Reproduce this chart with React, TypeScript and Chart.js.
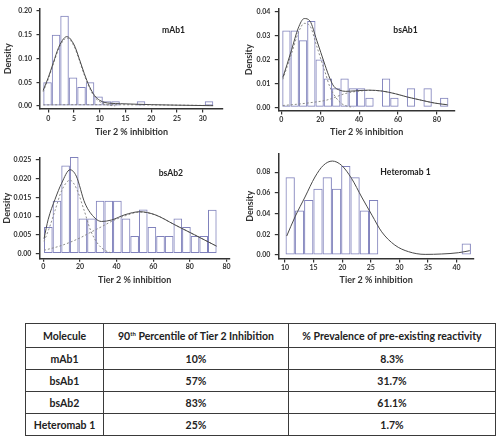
import React, { useEffect, useRef } from 'react';
import { Chart, registerables } from 'chart.js';

Chart.register(...registerables);
Chart.defaults.font.family = 'Lato, "Liberation Sans", sans-serif';

// ---------- mAb1 ----------
const mAb1BinStart = -0.97;
const mAb1BinWidth = 1.65;
const mAb1Density = [0.05, 0.15, 0.19, 0.06, 0.04, 0.05, 0.02, 0.01, 0.01, 0, 0, 0.01, 0, 0, 0, 0, 0, 0, 0, 0.01];
const mAb1FitX = [-1, 0, 1, 2, 3, 3.6, 5, 6, 7, 8, 9, 10, 11, 12, 14, 17, 20, 25, 32];
const mAb1FitY = [0.033, 0.06, 0.092, 0.123, 0.142, 0.146, 0.129, 0.1, 0.068, 0.041, 0.022, 0.012, 0.0075, 0.006, 0.005, 0.004, 0.003, 0.002, 0.0008];
const mAb1Comp1X = [-1, 0, 1, 2, 3, 3.6, 5, 6, 7, 8, 9, 10, 11, 12, 13];
const mAb1Comp1Y = [0.03, 0.057, 0.089, 0.12, 0.139, 0.143, 0.126, 0.097, 0.065, 0.038, 0.019, 0.009, 0.004, 0.0015, 0.0005];
const mAb1Comp2X = [-1, 5, 10, 15, 20, 25, 32];
const mAb1Comp2Y = [0.0025, 0.003, 0.003, 0.0028, 0.0025, 0.002, 0.0012];
const mAb1XTicks = [0, 5, 10, 15, 20, 25, 30];
const mAb1XTickLabels = ['0', '5', '10', '15', '20', '25', '30'];
const mAb1YTicks = [0, 0.05, 0.1, 0.15, 0.2];
const mAb1YTickLabels = ['0.00', '0.05', '0.10', '0.15', '0.20'];

// ---------- bsAb1 ----------
const bsAb1BinStart = 0.5;
const bsAb1BinWidth = 4.27;
const bsAb1Density = [0.032, 0.032, 0.028, 0.036, 0.02, 0.012, 0.008, 0.012, 0.008, 0.008, 0.004, 0, 0.012, 0.004, 0, 0.008, 0, 0.008, 0, 0.004];
const bsAb1FitX = [0.8, 3, 5.3, 8.7, 11.8, 14.7, 18.2, 22.5, 25, 27, 30, 33, 38, 45, 52, 58.6, 65, 72, 79, 85.5];
const bsAb1FitY = [0.0125, 0.018, 0.024, 0.033, 0.037, 0.036, 0.028, 0.0176, 0.012, 0.0088, 0.0072, 0.0067, 0.0069, 0.0072, 0.0068, 0.0057, 0.0043, 0.003, 0.0018, 0.0011];
const bsAb1Comp1X = [0.8, 3, 5.3, 8.7, 11.8, 14.7, 18.2, 22.5, 25, 28, 31, 34, 37];
const bsAb1Comp1Y = [0.0117, 0.017, 0.0225, 0.031, 0.035, 0.034, 0.0255, 0.0147, 0.0085, 0.0042, 0.0016, 0.0005, 0.0001];
const bsAb1Comp2X = [0.8, 10, 17, 22.5, 27, 31, 35, 40, 45, 52, 58.6, 65, 72, 79, 85.5];
const bsAb1Comp2Y = [0.0008, 0.0015, 0.0022, 0.0029, 0.004, 0.0053, 0.0062, 0.0068, 0.0071, 0.0068, 0.0057, 0.0043, 0.003, 0.0018, 0.0011];
const bsAb1XTicks = [0, 20, 40, 60, 80];
const bsAb1XTickLabels = ['0', '20', '40', '60', '80'];
const bsAb1YTicks = [0, 0.01, 0.02, 0.03, 0.04];
const bsAb1YTickLabels = ['0.00', '0.01', '0.02', '0.03', '0.04'];

// ---------- bsAb2 ----------
const bsAb2BinStart = 0.4;
const bsAb2BinWidth = 4.71;
const bsAb2Density = [0.0071, 0.0141, 0.0235, 0.0258, 0.0094, 0.0094, 0.0141, 0.0141, 0.0141, 0.0094, 0.0047, 0.0118, 0.0071, 0.0047, 0.0047, 0.0094, 0.0071, 0.0047, 0.0047, 0.0117];
const bsAb2FitX = [0.4, 2.7, 6.4, 10, 14.6, 18, 22.7, 28.2, 31.8, 37.3, 44.6, 52.7, 60.9, 71.8, 82.7, 94.6];
const bsAb2FitY = [0.004, 0.0092, 0.0145, 0.0188, 0.0224, 0.0207, 0.0135, 0.0095, 0.0086, 0.009, 0.0104, 0.0112, 0.0104, 0.0077, 0.005, 0.002];
const bsAb2Comp1X = [0.4, 3, 6.4, 10, 14.6, 18, 22, 26, 30, 34, 38];
const bsAb2Comp1Y = [0.0033, 0.0065, 0.0115, 0.0168, 0.0196, 0.0175, 0.012, 0.006, 0.0025, 0.0008, 0.0001];
const bsAb2Comp2X = [0.4, 10, 20, 25, 31.8, 38, 44.6, 52.7, 60.9, 71.8, 82.7, 94.6];
const bsAb2Comp2Y = [0.0009, 0.0022, 0.0042, 0.0055, 0.0072, 0.0088, 0.0101, 0.0111, 0.0104, 0.0077, 0.005, 0.002];
const bsAb2XTicks = [0, 20, 40, 60, 80, 100];
const bsAb2XTickLabels = ['0', '20', '40', '60', '80', '80'];
const bsAb2YTicks = [0, 0.005, 0.01, 0.015, 0.02, 0.025];
const bsAb2YTickLabels = ['0.00', '0.005', '0.010', '0.015', '0.020', '0.025'];

// ---------- Heteromab 1 ----------
const heteroBinStart = 10.1;
const heteroBinWidth = 1.62;
const heteroDensity = [0.075, 0.043, 0.053, 0.064, 0.075, 0.064, 0.086, 0.075, 0.043, 0.053, 0, 0, 0, 0, 0, 0, 0, 0, 0, 0.011];
const heteroFitX = [10.3, 11.75, 13.5, 15.24, 16.7, 18.27, 19.9, 21.66, 23.4, 25.2, 26.9, 29.2, 31.6, 34.5, 37.4, 40.3, 42.3];
const heteroFitY = [0.0183, 0.0368, 0.056, 0.0753, 0.0865, 0.0907, 0.0865, 0.0737, 0.056, 0.0385, 0.0224, 0.0096, 0.0032, 0.0006, 0.001, 0.0022, 0.0042];
const heteroXTicks = [10, 15, 20, 25, 30, 35, 40];
const heteroXTickLabels = ['10', '15', '20', '25', '30', '35', '40'];
const heteroYTicks = [0, 0.02, 0.04, 0.06, 0.08];
const heteroYTickLabels = ['0.00', '0.02', '0.04', '0.06', '0.08'];

// ---------- Table ----------
const tableHeader = ['Molecule', '90th Percentile of Tier 2 Inhibition', '% Prevalence of pre-existing reactivity'];
const molecules = ['mAb1', 'bsAb1', 'bsAb2', 'Heteromab 1'];
const percentile90 = ['10%', '57%', '83%', '25%'];
const prevalence = ['8.3%', '31.7%', '61.1%', '1.7%'];

const xTitle = 'Tier 2 % inhibition';
const yTitle = 'Density';

const AXIS = '#333333';
const BAR = 'rgb(128,130,188)';

type Pts = { x: number; y: number }[];
const zip = (xs: number[], ys: number[]): Pts => xs.map((x, i) => ({ x, y: ys[i] }));
const bins = (start: number, w: number, d: number[]): Pts =>
  d.map((y, i) => ({ x: start + w * (i + 0.5), y })).filter((p) => p.y > 0);

const panelLabelPlugin = {
  id: 'panelLabel',
  afterDatasetsDraw(chart: any, _args: any, opts: any) {
    const { ctx, chartArea } = chart;
    ctx.save();
    ctx.font = 'bold 8.6px Lato, sans-serif';
    ctx.fillStyle = '#222';
    ctx.textAlign = 'center';
    ctx.textBaseline = 'middle';
    ctx.fillText(
      opts.text,
      chartArea.left + opts.fx * (chartArea.right - chartArea.left),
      chartArea.top + opts.fy * (chartArea.bottom - chartArea.top)
    );
    ctx.restore();
  },
};

interface PanelProps {
  left: number; top: number; width: number; height: number;
  yAxisWidth: number; xAxisHeight: number; padTop: number; padRight: number;
  xMin: number; xMax: number; yMin: number; yMax: number;
  xTicks: number[]; xTickLabels: string[]; yTicks: number[]; yTickLabels: string[];
  bars: Pts; fit: Pts; comps: Pts[];
  label: string; fx: number; fy: number;
  xTickPad: number; xTitlePad: number; yTitlePad: number;
}

function Panel(p: PanelProps) {
  const ref = useRef<HTMLCanvasElement>(null);
  useEffect(() => {
    if (!ref.current) return;
    const datasets: any[] = [
      {
        type: 'bar', data: p.bars, order: 3,
        backgroundColor: 'rgba(255,255,255,0)', borderColor: BAR, borderWidth: 1,
        borderSkipped: false, barPercentage: 1, categoryPercentage: 1, clip: false,
        inflateAmount: 0,
      },
      ...p.comps.map((c) => ({
        type: 'line', data: c, order: 2, borderColor: '#8a8a8a', borderWidth: 1,
        borderDash: [2, 2], pointRadius: 0, cubicInterpolationMode: 'monotone', fill: false,
      })),
      {
        type: 'line', data: p.fit, order: 1, borderColor: '#4a4a4a', borderWidth: 1,
        pointRadius: 0, cubicInterpolationMode: 'monotone', fill: false,
      },
    ];
    const chart = new Chart(ref.current, {
      type: 'bar',
      data: { datasets },
      plugins: [panelLabelPlugin],
      options: {
        animation: false,
        responsive: false,
        events: [],
        layout: { padding: { top: p.padTop, right: p.padRight, left: 0, bottom: 0 } },
        plugins: {
          legend: { display: false },
          tooltip: { enabled: false },
          panelLabel: { text: p.label, fx: p.fx, fy: p.fy },
        } as any,
        scales: {
          x: {
            type: 'linear', min: p.xMin, max: p.xMax, offset: false,
            afterBuildTicks: (s: any) => { s.ticks = p.xTicks.map((v) => ({ value: v })); },
            afterFit: (s: any) => { s.height = p.xAxisHeight; },
            ticks: {
              autoSkip: false, maxRotation: 0, padding: p.xTickPad, color: '#333',
              font: { size: 7, weight: 'bold' },
              callback: (_v: any, i: number) => p.xTickLabels[i],
            },
            grid: { offset: false, drawOnChartArea: false, drawTicks: true, tickLength: 3.5, color: AXIS, lineWidth: 1.2 },
            border: { display: true, color: AXIS, width: 1.5 },
            title: { display: true, text: xTitle, color: '#333', font: { size: 9, weight: 'bold' }, padding: { top: 0, bottom: p.xTitlePad } },
          },
          y: {
            type: 'linear', min: p.yMin, max: p.yMax,
            afterBuildTicks: (s: any) => { s.ticks = p.yTicks.map((v) => ({ value: v })); },
            afterFit: (s: any) => { s.width = p.yAxisWidth; },
            ticks: {
              autoSkip: false, padding: 4.5, color: '#333',
              font: { size: 7, weight: 'bold' },
              callback: (_v: any, i: number) => p.yTickLabels[i],
            },
            grid: { drawOnChartArea: false, drawTicks: true, tickLength: 3.5, color: AXIS, lineWidth: 1.2 },
            border: { display: true, color: AXIS, width: 1.5 },
            title: { display: true, text: yTitle, color: '#333', font: { size: 9, weight: 'bold' }, padding: { top: p.yTitlePad, bottom: 0 } },
          },
        } as any,
      } as any,
    } as any);
    return () => chart.destroy();
  }, []);
  return (
    <canvas
      ref={ref}
      width={p.width}
      height={p.height}
      style={{ position: 'absolute', left: p.left, top: p.top, width: p.width, height: p.height }}
    />
  );
}

const cell: React.CSSProperties = {
  border: '1px solid #3a3a3a', textAlign: 'center', verticalAlign: 'middle', padding: 0,
};

export default function App() {
  return (
    <div style={{ position: 'absolute', left: 0, top: 0, width: 500, height: 438, background: '#fff', overflow: 'hidden' }}>
      <Panel
        left={0} top={0} width={240} height={145}
        yAxisWidth={40} xAxisHeight={36} padTop={5} padRight={17}
        xMin={-1.61} xMax={33.92} yMin={-0.0061} yMax={0.2047}
        xTicks={mAb1XTicks} xTickLabels={mAb1XTickLabels} yTicks={mAb1YTicks} yTickLabels={mAb1YTickLabels}
        bars={bins(mAb1BinStart, mAb1BinWidth, mAb1Density)}
        fit={zip(mAb1FitX, mAb1FitY)}
        comps={[zip(mAb1Comp1X, mAb1Comp1Y), zip(mAb1Comp2X, mAb1Comp2Y)]}
        label="mAb1" fx={0.73} fy={0.21}
        xTickPad={1.7} xTitlePad={7.9} yTitlePad={2.9}
      />
      <Panel
        left={243} top={0} width={225} height={145}
        yAxisWidth={35.3} xAxisHeight={34} padTop={4.5} padRight={13}
        xMin={-1.54} xMax={89.3} yMin={-0.00148} yMax={0.0411}
        xTicks={bsAb1XTicks} xTickLabels={bsAb1XTickLabels} yTicks={bsAb1YTicks} yTickLabels={bsAb1YTickLabels}
        bars={bins(bsAb1BinStart, bsAb1BinWidth, bsAb1Density)}
        fit={zip(bsAb1FitX, bsAb1FitY)}
        comps={[zip(bsAb1Comp1X, bsAb1Comp1Y), zip(bsAb1Comp2X, bsAb1Comp2Y)]}
        label="bsAb1" fx={0.72} fy={0.21}
        xTickPad={0.7} xTitlePad={7.9} yTitlePad={1.1}
      />
      <Panel
        left={0} top={145} width={240} height={145}
        yAxisWidth={39.3} xAxisHeight={31.7} padTop={13} padRight={10}
        xMin={-2.18} xMax={101.9} yMin={-0.00123} yMax={0.02553}
        xTicks={bsAb2XTicks} xTickLabels={bsAb2XTickLabels} yTicks={bsAb2YTicks} yTickLabels={bsAb2YTickLabels}
        bars={bins(bsAb2BinStart, bsAb2BinWidth, bsAb2Density)}
        fit={zip(bsAb2FitX, bsAb2FitY)}
        comps={[zip(bsAb2Comp1X, bsAb2Comp1Y), zip(bsAb2Comp2X, bsAb2Comp2Y)]}
        label="bsAb2" fx={0.69} fy={0.15}
        xTickPad={0.7} xTitlePad={4.6} yTitlePad={1.9}
      />
      <Panel
        left={243} top={145} width={240} height={145}
        yAxisWidth={35.3} xAxisHeight={31} padTop={8.3} padRight={9}
        xMin={8.83} xMax={43.04} yMin={-0.00385} yMax={0.0978}
        xTicks={heteroXTicks} xTickLabels={heteroXTickLabels} yTicks={heteroYTicks} yTickLabels={heteroYTickLabels}
        bars={bins(heteroBinStart, heteroBinWidth, heteroDensity)}
        fit={zip(heteroFitX, heteroFitY)}
        comps={[]}
        label="Heteromab 1" fx={0.65} fy={0.18}
        xTickPad={0.7} xTitlePad={4.6} yTitlePad={1.6}
      />
      <table
        style={{
          position: 'absolute', left: 25, top: 323, width: 470, height: 112,
          borderCollapse: 'collapse', tableLayout: 'fixed',
          fontFamily: 'Lato, sans-serif', fontWeight: 700, fontSize: 10.5, color: '#222',
        }}
      >
        <colgroup>
          <col style={{ width: 78 }} />
          <col style={{ width: 185 }} />
          <col style={{ width: 207 }} />
        </colgroup>
        <tbody>
          <tr style={{ height: 24 }}>
            <td style={cell}>{tableHeader[0]}</td>
            <td style={cell}>
              {tableHeader[1].split(' ')[0].replace('th', '')}
              <sup style={{ fontSize: 6, verticalAlign: 'super', lineHeight: 0 }}>th</sup>
              {' ' + tableHeader[1].split(' ').slice(1).join(' ')}
            </td>
            <td style={cell}>{tableHeader[2]}</td>
          </tr>
          {molecules.map((m, i) => (
            <tr key={m} style={{ height: 22 }}>
              <td style={cell}>{m}</td>
              <td style={cell}>{percentile90[i]}</td>
              <td style={cell}>{prevalence[i]}</td>
            </tr>
          ))}
        </tbody>
      </table>
    </div>
  );
}
